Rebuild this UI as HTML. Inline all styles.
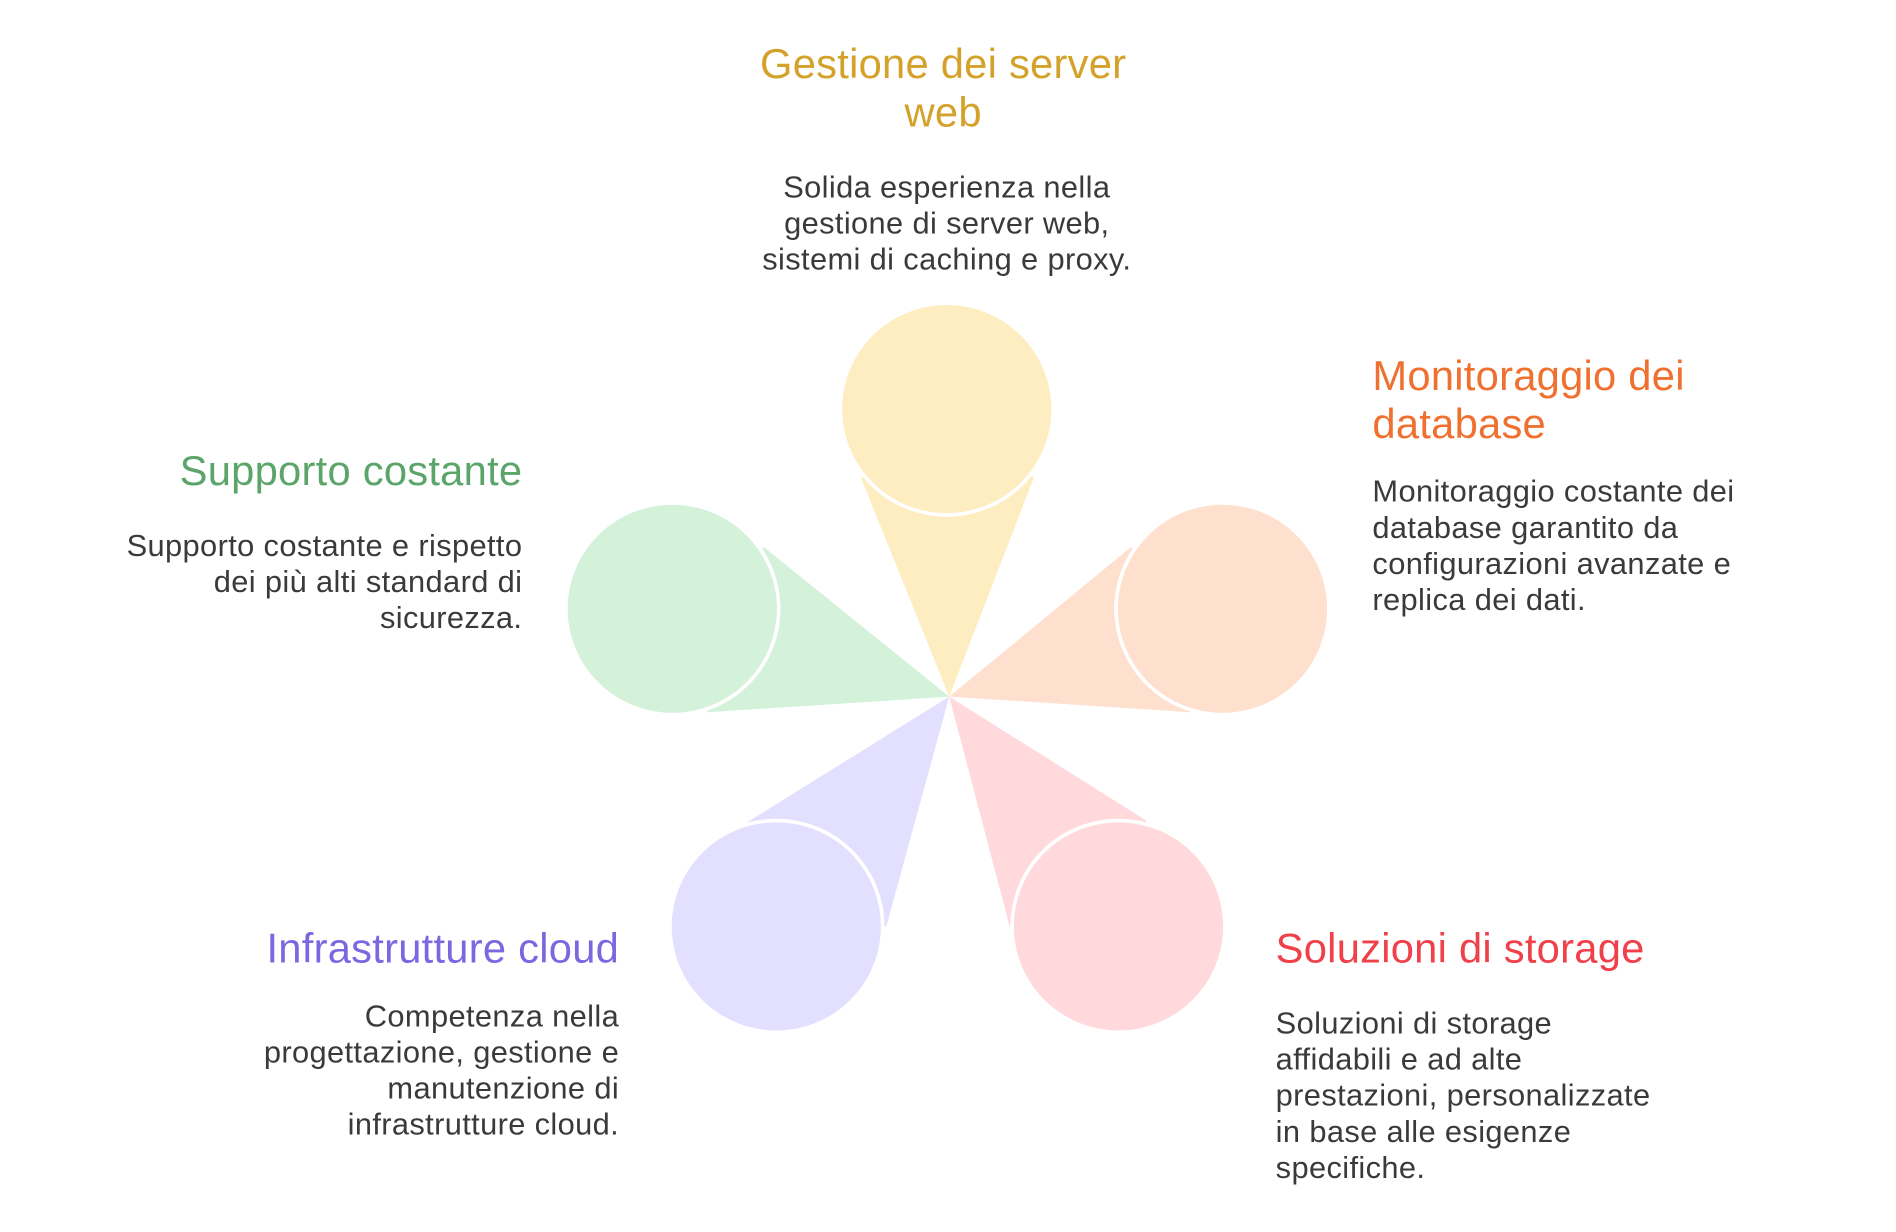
<!DOCTYPE html>
<html><head><meta charset="utf-8"><style>
html,body{margin:0;padding:0;background:#fff;}
svg{display:block;}
text{font-family:"Liberation Sans",sans-serif;}
.t{font-size:34.5px;letter-spacing:0.2px;}
.b{font-size:25.5px;fill:#3a3a3a;letter-spacing:0.3px;}
</style></head><body>
<svg width="1896" height="1232" viewBox="0 0 1568 1024" preserveAspectRatio="none" xmlns="http://www.w3.org/2000/svg">
<g transform="translate(0,2)">
<g stroke="none">
<polygon points="785,577 712,395 783,338 855,395" fill="#FFEDC2"/>
<polygon points="785,577 935,453 1011,504 985,590" fill="#FFE0CF"/>
<polygon points="785,577 948,680 925,768 835,768" fill="#FFD9DB"/>
<polygon points="785,577 617,682 642,768 733,768" fill="#E3E0FF"/>
<polygon points="785,577 632,453 556,504 585,590" fill="#D4F1DA"/>
</g>
<g stroke="#fff" stroke-width="3">
<circle cx="783" cy="338" r="88" fill="#FFEDC2"/>
<circle cx="1011" cy="504" r="88" fill="#FFE0CF"/>
<circle cx="925" cy="768" r="88" fill="#FFD9DB"/>
<circle cx="642" cy="768" r="88" fill="#E3E0FF"/>
<circle cx="556" cy="504" r="88" fill="#D4F1DA"/>
</g>
<g text-anchor="middle">
<text class="t" x="780" y="63" fill="#D4A22A">Gestione dei server</text>
<text class="t" x="780" y="103" fill="#D4A22A">web</text>
<text class="b" x="783" y="162">Solida esperienza nella</text>
<text class="b" x="783" y="192">gestione di server web,</text>
<text class="b" x="783" y="222">sistemi di caching e proxy.</text>
</g>
<g>
<text class="t" x="1135" y="322" fill="#F07030">Monitoraggio dei</text>
<text class="t" x="1135" y="362" fill="#F07030">database</text>
<text class="b" x="1135" y="415">Monitoraggio costante dei</text>
<text class="b" x="1135" y="445">database garantito da</text>
<text class="b" x="1135" y="475">configurazioni avanzate e</text>
<text class="b" x="1135" y="505">replica dei dati.</text>
<text class="t" x="1055" y="798" fill="#F0404A">Soluzioni di storage</text>
<text class="b" x="1055" y="857">Soluzioni di storage</text>
<text class="b" x="1055" y="887">affidabili e ad alte</text>
<text class="b" x="1055" y="917">prestazioni, personalizzate</text>
<text class="b" x="1055" y="947">in base alle esigenze</text>
<text class="b" x="1055" y="977">specifiche.</text>
</g>
<g text-anchor="end">
<text class="t" x="512" y="798" fill="#7B68E0">Infrastrutture cloud</text>
<text class="b" x="512" y="851">Competenza nella</text>
<text class="b" x="512" y="881">progettazione, gestione e</text>
<text class="b" x="512" y="911">manutenzione di</text>
<text class="b" x="512" y="941">infrastrutture cloud.</text>
<text class="t" x="432" y="401" fill="#5BA56A">Supporto costante</text>
<text class="b" x="432" y="460">Supporto costante e rispetto</text>
<text class="b" x="432" y="490">dei più alti standard di</text>
<text class="b" x="432" y="520">sicurezza.</text>
</g>
</g>
</svg>
</body></html>
